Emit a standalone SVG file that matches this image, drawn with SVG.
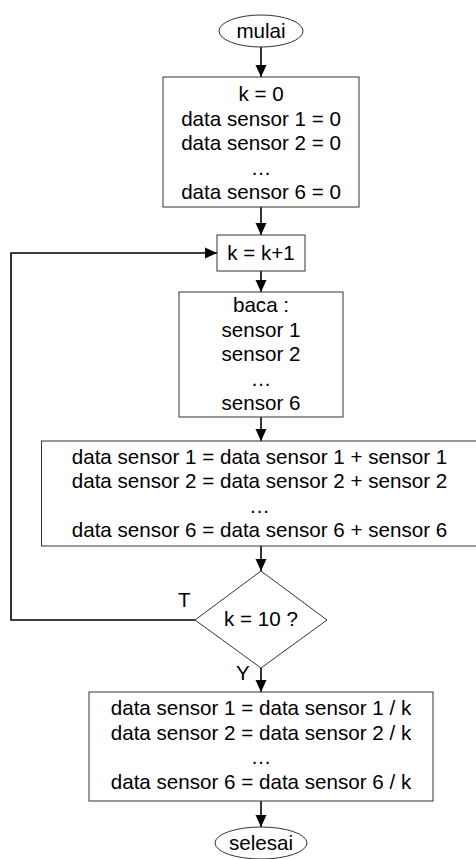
<svg xmlns="http://www.w3.org/2000/svg" width="476" height="859" viewBox="0 0 476 859">
<style>
.box{fill:#fff;stroke:#333;stroke-width:1}
.t{font-family:"Liberation Sans",Arial,sans-serif;font-size:20.6px;fill:#000;text-anchor:middle}
.l{font-family:"Liberation Sans",Arial,sans-serif;font-size:20.6px;fill:#000}
.c{fill:none;stroke:#000;stroke-width:1.6}
</style>
<defs>
<marker id="ah" markerUnits="userSpaceOnUse" markerWidth="12" markerHeight="12" viewBox="0 0 12 12" refX="12" refY="6" orient="auto">
<path d="M0,0.5 L12,6 L0,11.5 Z" fill="#000"/>
</marker>
</defs>
<rect width="476" height="859" fill="#fff"/>
<g id="connectors">
<line class="c" x1="261" y1="47" x2="261" y2="77" marker-end="url(#ah)"/>
<line class="c" x1="261" y1="207" x2="261" y2="235" marker-end="url(#ah)"/>
<line class="c" x1="261" y1="271" x2="261" y2="292" marker-end="url(#ah)"/>
<line class="c" x1="261" y1="417" x2="261" y2="441" marker-end="url(#ah)"/>
<line class="c" x1="261" y1="546" x2="261" y2="571" marker-end="url(#ah)"/>
<line class="c" x1="261" y1="668" x2="261" y2="692" marker-end="url(#ah)"/>
<line class="c" x1="261" y1="801" x2="261" y2="827" marker-end="url(#ah)"/>
<polyline class="c" points="195,620 11,620 11,253 217,253" marker-end="url(#ah)"/>
</g>
<g id="start">
<ellipse class="box" cx="261" cy="31" rx="42" ry="16"/>
<text class="t" x="261" y="38">mulai</text>
</g>
<g id="init">
<rect class="box" x="163" y="77" width="196" height="130"/>
<text class="t" x="261" y="101">k = 0</text>
<text class="t" x="261" y="126">data sensor 1 = 0</text>
<text class="t" x="261" y="150">data sensor 2 = 0</text>
<text class="t" x="261" y="175">…</text>
<text class="t" x="261" y="199">data sensor 6 = 0</text>
</g>
<g id="inc">
<rect class="box" x="217" y="235" width="88" height="36"/>
<text class="t" x="261" y="260">k = k+1</text>
</g>
<g id="read">
<rect class="box" x="179" y="292" width="164" height="125"/>
<text class="t" x="261" y="312">baca :</text>
<text class="t" x="261" y="337">sensor 1</text>
<text class="t" x="261" y="361">sensor 2</text>
<text class="t" x="261" y="386">…</text>
<text class="t" x="261" y="410">sensor 6</text>
</g>
<g id="sum">
<rect class="box" x="41.5" y="441" width="440" height="105"/>
<text class="t" x="259.5" y="464">data sensor 1 = data sensor 1 + sensor 1</text>
<text class="t" x="259.5" y="488">data sensor 2 = data sensor 2 + sensor 2</text>
<text class="t" x="259.5" y="513">…</text>
<text class="t" x="259.5" y="537">data sensor 6 = data sensor 6 + sensor 6</text>
</g>
<g id="decision">
<polygon class="box" points="261,571 327,620 261,668 195,620"/>
<text class="t" x="261" y="626">k = 10 ?</text>
<text class="l" x="178" y="607">T</text>
<text class="l" x="236" y="680">Y</text>
</g>
<g id="avg">
<rect class="box" x="89" y="692" width="344" height="109"/>
<text class="t" x="261" y="715">data sensor 1 = data sensor 1 / k</text>
<text class="t" x="261" y="740">data sensor 2 = data sensor 2 / k</text>
<text class="t" x="261" y="764">…</text>
<text class="t" x="261" y="789">data sensor 6 = data sensor 6 / k</text>
</g>
<g id="end">
<ellipse class="box" cx="261" cy="843" rx="46" ry="16"/>
<text class="t" x="261" y="850">selesai</text>
</g>
</svg>
